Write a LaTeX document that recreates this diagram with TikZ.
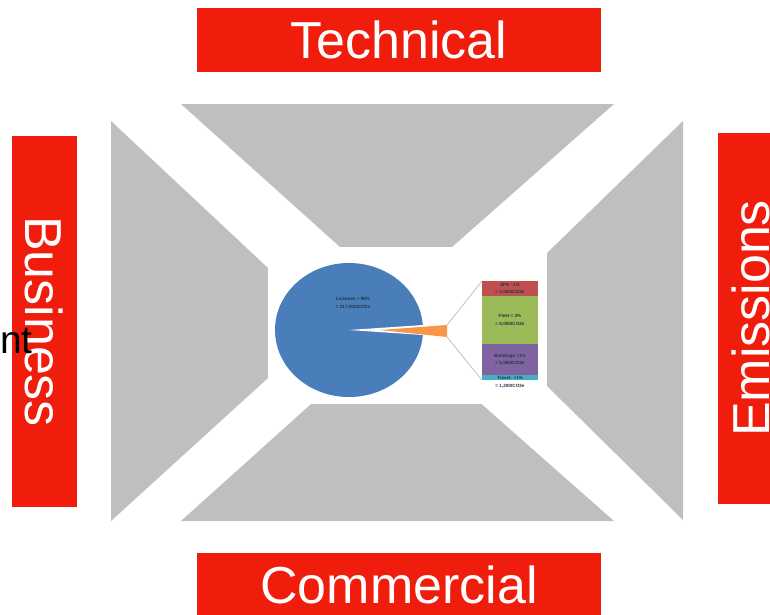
\documentclass[tikz,border=0pt]{standalone}
\usepackage{fontspec}
\setmainfont{Liberation Sans}
\definecolor{labelred}{RGB}{240, 28, 12}
\definecolor{panelgrey}{RGB}{191, 191, 191}
\definecolor{pieblue}{RGB}{74, 126, 187}
\definecolor{pieorange}{RGB}{247, 150, 70}
\definecolor{barred}{RGB}{192, 80, 77}
\definecolor{bargreen}{RGB}{155, 187, 89}
\definecolor{barpurple}{RGB}{128, 100, 162}
\definecolor{barcyan}{RGB}{75, 172, 198}
\definecolor{tinytext}{RGB}{40, 50, 70}

\tikzset{
  labelbox/.style={fill=labelred, text=white, inner sep=0pt,
    minimum width=404pt, minimum height=64pt,
    font=\fontsize{52}{52}\selectfont},
  tiny/.style={text=tinytext, inner sep=0pt, align=center,
    font=\fontsize{4.6}{7.5}\selectfont\bfseries}
}

\begin{document}
\begin{tikzpicture}[x=1pt, y=-1pt]
        \useasboundingbox (0,0) rectangle (770,614);

        % four grey panels
        \fill[panelgrey] (181,104) -- (614,104) -- (452,247) -- (340,247) -- cycle;
        \fill[panelgrey] (181,521) -- (614,521) -- (452,378) -- (340,378) -- cycle;
        \fill[panelgrey] (111,121) -- (268,268) -- (268,378) -- (111,521) -- cycle;
        \fill[panelgrey] (683,121) -- (547,253) -- (547,386) -- (683,520) -- cycle;

        % chart picture in the middle
        \fill[white] (268,247) rectangle (547,404);

        \coordinate (C) at (349,330);
        \fill[pieblue] (C) ellipse [x radius=74, y radius=67];
        \fill[white] (C) -- (423,325) -- (423,335) -- cycle;
        \coordinate (tipA) at (447,325);
        \coordinate (tipB) at (447,337);
        \fill[pieorange] (380,330) -- (tipA) -- (tipB) -- cycle;
        \node[tiny] (licensee) at (353,303) {Licensee = 98\%\\= 217,000tCO2e};

        \coordinate (barTL) at (482,281);
        \coordinate (barBL) at (482,380);
        \draw[gray!60, line width=0.6pt] (tipA) -- (barTL);
        \draw[gray!60, line width=0.6pt] (tipB) -- (barBL);

        \fill[barred] (barTL) rectangle (538,296)
          node[tiny, pos=.5] (sps) {SPS \textasciitilde1\%\\= 2,500tCO2e};
        \fill[bargreen] (482,296) rectangle (538,344)
          node[tiny, pos=.5] (fleet) {Fleet = 3\%\\= 8,000tCO2e};
        \fill[barpurple] (482,344) rectangle (538,375)
          node[tiny, pos=.5] (buildings) {Buildings <1\%\\= 5,500tCO2e};
        \fill[barcyan] (482,375) rectangle (538,380)
          node[tiny, pos=.5] (travel) {Travel: <1\%};
        \node[tiny] (travelval) at (510,386) {= 1,200tCO2e};

        % red labels
        \node[labelbox] (technical) at (399,40) {Technical};
        \node[labelbox] (commercial) at (399,585) {Commercial};
        \node[labelbox, minimum width=371pt, minimum height=65pt, rotate=-90]
          (business) at (44.5,321.5) {Business};
        \node[labelbox, minimum width=371pt, minimum height=65pt, rotate=90]
          (emissions) at (750.5,318.5) {Emissions};

        \node[anchor=base east, inner sep=0pt, font=\fontsize{39}{39}\selectfont]
          (cutword) at (33,353) {nt};
      \end{tikzpicture}
\end{document}
